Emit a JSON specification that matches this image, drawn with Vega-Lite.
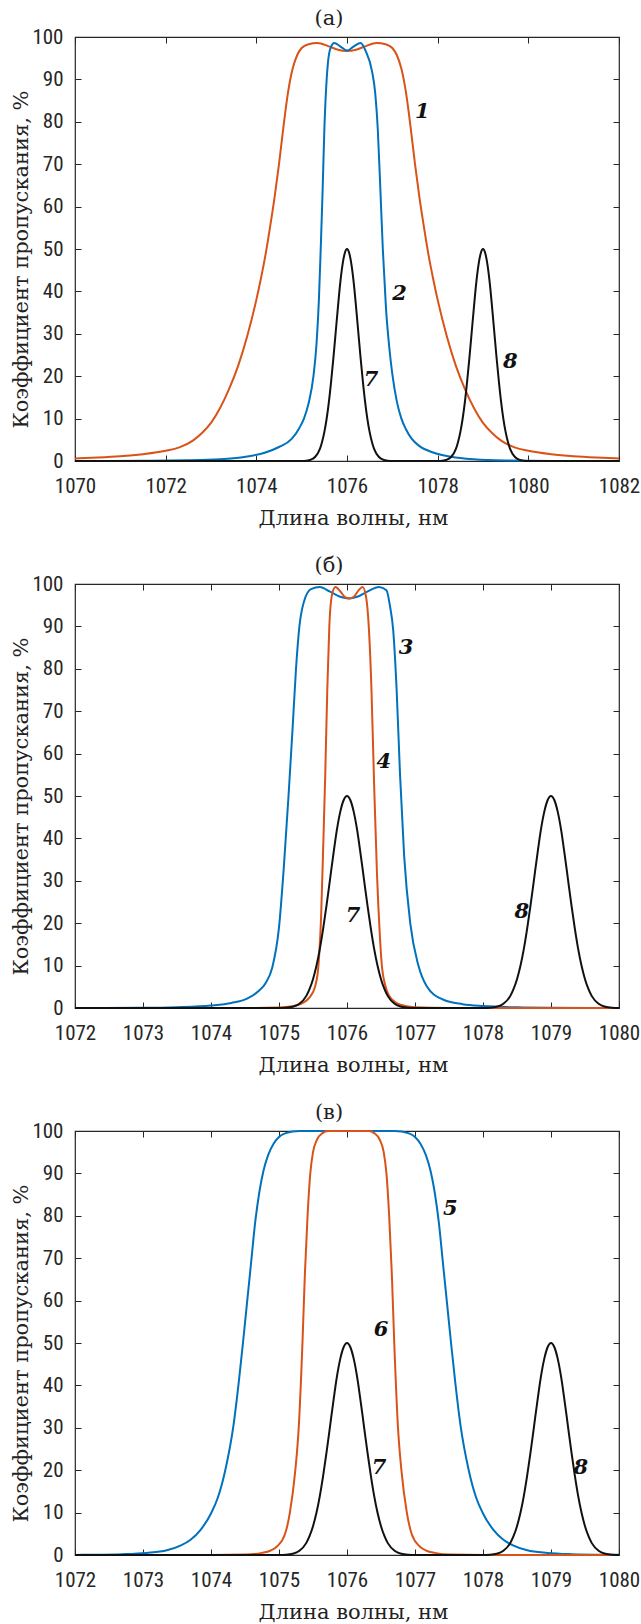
{
"$schema": "https://vega.github.io/schema/vega-lite/v6.json",
"padding": {"top": 7, "left": 10, "right": 0, "bottom": 0},
"spacing": 25,
"config": {
 "view": {"stroke": "#262626", "strokeWidth": 1.2},
 "axis": {"grid": false, "domain": false, "labelFlush": false, "labelOverlap": false, "tickColor": "#262626", "tickWidth": 1, "labelColor": "#262626", "labelFont": "'Liberation Sans Narrow', 'Roboto Condensed', 'DejaVu Sans Condensed', 'Liberation Sans'", "labelFontSize": 21, "titleFont": "DejaVu Serif", "titleFontSize": 21, "titleFontWeight": "normal", "titleColor": "#222222"},
 "title": {"font": "DejaVu Serif", "fontSize": 21, "fontWeight": "normal", "color": "#222222", "offset": -3},
 "line": {"interpolate": "monotone", "strokeWidth": 2},
 "text": {"font": "DejaVu Serif", "fontStyle": "italic", "fontWeight": "bold", "fontSize": 21, "color": "#111111"}
},
"datasets": {
 "a": [
  {"c":"1","x":1070,"y":0.6},{"c":"1","x":1070.5,"y":0.8},{"c":"1","x":1071,"y":1.1},{"c":"1","x":1071.5,"y":1.6},{"c":"1","x":1072,"y":2.4},{"c":"1","x":1072.3,"y":3.2},{"c":"1","x":1072.6,"y":4.8},{"c":"1","x":1072.8,"y":6.6},{"c":"1","x":1073.0,"y":9.0},{"c":"1","x":1073.2,"y":12.5},{"c":"1","x":1073.4,"y":17},{"c":"1","x":1073.6,"y":22.5},{"c":"1","x":1073.8,"y":29.5},{"c":"1","x":1074.0,"y":38},{"c":"1","x":1074.1,"y":43},{"c":"1","x":1074.2,"y":48.5},{"c":"1","x":1074.3,"y":55},{"c":"1","x":1074.4,"y":62},{"c":"1","x":1074.5,"y":70},{"c":"1","x":1074.6,"y":79},{"c":"1","x":1074.7,"y":87},{"c":"1","x":1074.8,"y":92.5},{"c":"1","x":1074.9,"y":95.7},{"c":"1","x":1075.0,"y":97.4},{"c":"1","x":1075.15,"y":98.3},{"c":"1","x":1075.35,"y":98.6},{"c":"1","x":1075.6,"y":97.8},{"c":"1","x":1075.8,"y":97.0},{"c":"1","x":1076.0,"y":96.7},{"c":"1","x":1076.2,"y":97.0},{"c":"1","x":1076.4,"y":97.8},{"c":"1","x":1076.65,"y":98.6},{"c":"1","x":1076.85,"y":98.3},{"c":"1","x":1077.0,"y":97.4},{"c":"1","x":1077.1,"y":95.7},{"c":"1","x":1077.2,"y":92.5},{"c":"1","x":1077.3,"y":87},{"c":"1","x":1077.4,"y":79},{"c":"1","x":1077.5,"y":70},{"c":"1","x":1077.6,"y":62},{"c":"1","x":1077.7,"y":55},{"c":"1","x":1077.8,"y":48.5},{"c":"1","x":1077.9,"y":43},{"c":"1","x":1078.0,"y":38},{"c":"1","x":1078.2,"y":29.5},{"c":"1","x":1078.4,"y":22.5},{"c":"1","x":1078.6,"y":17},{"c":"1","x":1078.8,"y":12.5},{"c":"1","x":1079.0,"y":9.0},{"c":"1","x":1079.2,"y":6.6},{"c":"1","x":1079.4,"y":4.8},{"c":"1","x":1079.7,"y":3.2},{"c":"1","x":1080,"y":2.4},{"c":"1","x":1080.5,"y":1.6},{"c":"1","x":1081,"y":1.1},{"c":"1","x":1081.5,"y":0.8},{"c":"1","x":1082,"y":0.6},
  {"c":"2","x":1070,"y":0},{"c":"2","x":1071.5,"y":0.05},{"c":"2","x":1072.5,"y":0.15},{"c":"2","x":1073.2,"y":0.4},{"c":"2","x":1073.7,"y":0.9},{"c":"2","x":1074.2,"y":2},{"c":"2","x":1074.5,"y":3.3},{"c":"2","x":1074.78,"y":5.2},{"c":"2","x":1074.95,"y":7.8},{"c":"2","x":1075.05,"y":10},{"c":"2","x":1075.15,"y":13.5},{"c":"2","x":1075.26,"y":20},{"c":"2","x":1075.33,"y":28},{"c":"2","x":1075.38,"y":38},{"c":"2","x":1075.42,"y":50},{"c":"2","x":1075.46,"y":63},{"c":"2","x":1075.5,"y":78},{"c":"2","x":1075.54,"y":88},{"c":"2","x":1075.58,"y":94},{"c":"2","x":1075.64,"y":97.5},{"c":"2","x":1075.72,"y":98.6},{"c":"2","x":1075.85,"y":97.8},{"c":"2","x":1076.0,"y":96.8},{"c":"2","x":1076.15,"y":97.8},{"c":"2","x":1076.3,"y":98.6},{"c":"2","x":1076.42,"y":96.5},{"c":"2","x":1076.55,"y":92},{"c":"2","x":1076.62,"y":87},{"c":"2","x":1076.68,"y":78},{"c":"2","x":1076.74,"y":63},{"c":"2","x":1076.79,"y":50},{"c":"2","x":1076.86,"y":36},{"c":"2","x":1076.94,"y":26},{"c":"2","x":1077.0,"y":20.5},{"c":"2","x":1077.1,"y":14},{"c":"2","x":1077.2,"y":10},{"c":"2","x":1077.3,"y":7.5},{"c":"2","x":1077.43,"y":5.2},{"c":"2","x":1077.6,"y":3.5},{"c":"2","x":1077.9,"y":2},{"c":"2","x":1078.3,"y":1},{"c":"2","x":1078.8,"y":0.4},{"c":"2","x":1079.5,"y":0.1},{"c":"2","x":1080.5,"y":0},{"c":"2","x":1082,"y":0},
  {"c":"7","x":1070,"y":0},{"c":"7","x":1075.0,"y":0.02},{"c":"7","x":1075.1,"y":0.08},{"c":"7","x":1075.2,"y":0.3},{"c":"7","x":1075.3,"y":1.0},{"c":"7","x":1075.4,"y":2.8},{"c":"7","x":1075.45,"y":4.5},{"c":"7","x":1075.5,"y":6.8},{"c":"7","x":1075.55,"y":9.9},{"c":"7","x":1075.6,"y":13.9},{"c":"7","x":1075.65,"y":18.8},{"c":"7","x":1075.7,"y":24.3},{"c":"7","x":1075.75,"y":30.3},{"c":"7","x":1075.8,"y":36.3},{"c":"7","x":1075.85,"y":41.9},{"c":"7","x":1075.9,"y":46.2},{"c":"7","x":1075.95,"y":49.0},{"c":"7","x":1076.0,"y":50},{"c":"7","x":1076.05,"y":49.0},{"c":"7","x":1076.1,"y":46.2},{"c":"7","x":1076.15,"y":41.9},{"c":"7","x":1076.2,"y":36.3},{"c":"7","x":1076.25,"y":30.3},{"c":"7","x":1076.3,"y":24.3},{"c":"7","x":1076.35,"y":18.8},{"c":"7","x":1076.4,"y":13.9},{"c":"7","x":1076.45,"y":9.9},{"c":"7","x":1076.5,"y":6.8},{"c":"7","x":1076.55,"y":4.5},{"c":"7","x":1076.6,"y":2.8},{"c":"7","x":1076.7,"y":1.0},{"c":"7","x":1076.8,"y":0.3},{"c":"7","x":1076.9,"y":0.08},{"c":"7","x":1077.0,"y":0.02},{"c":"7","x":1077.5,"y":0},
  {"c":"8","x":1077.5,"y":0},{"c":"8","x":1078.0,"y":0.02},{"c":"8","x":1078.1,"y":0.08},{"c":"8","x":1078.2,"y":0.3},{"c":"8","x":1078.3,"y":1.0},{"c":"8","x":1078.4,"y":2.8},{"c":"8","x":1078.45,"y":4.5},{"c":"8","x":1078.5,"y":6.8},{"c":"8","x":1078.55,"y":9.9},{"c":"8","x":1078.6,"y":13.9},{"c":"8","x":1078.65,"y":18.8},{"c":"8","x":1078.7,"y":24.3},{"c":"8","x":1078.75,"y":30.3},{"c":"8","x":1078.8,"y":36.3},{"c":"8","x":1078.85,"y":41.9},{"c":"8","x":1078.9,"y":46.2},{"c":"8","x":1078.95,"y":49.0},{"c":"8","x":1079.0,"y":50},{"c":"8","x":1079.05,"y":49.0},{"c":"8","x":1079.1,"y":46.2},{"c":"8","x":1079.15,"y":41.9},{"c":"8","x":1079.2,"y":36.3},{"c":"8","x":1079.25,"y":30.3},{"c":"8","x":1079.3,"y":24.3},{"c":"8","x":1079.35,"y":18.8},{"c":"8","x":1079.4,"y":13.9},{"c":"8","x":1079.45,"y":9.9},{"c":"8","x":1079.5,"y":6.8},{"c":"8","x":1079.55,"y":4.5},{"c":"8","x":1079.6,"y":2.8},{"c":"8","x":1079.7,"y":1.0},{"c":"8","x":1079.8,"y":0.3},{"c":"8","x":1079.9,"y":0.08},{"c":"8","x":1080.0,"y":0.02},{"c":"8","x":1080.5,"y":0},{"c":"8","x":1082,"y":0}
 ],
 "b": [
  {"c":"3","x":1072,"y":0},{"c":"3","x":1073,"y":0.05},{"c":"3","x":1073.5,"y":0.2},{"c":"3","x":1074.0,"y":0.6},{"c":"3","x":1074.3,"y":1.2},{"c":"3","x":1074.53,"y":2.2},{"c":"3","x":1074.7,"y":4},{"c":"3","x":1074.8,"y":5.8},{"c":"3","x":1074.9,"y":9.5},{"c":"3","x":1075.0,"y":19},{"c":"3","x":1075.07,"y":33},{"c":"3","x":1075.14,"y":50},{"c":"3","x":1075.2,"y":66},{"c":"3","x":1075.25,"y":80},{"c":"3","x":1075.3,"y":90},{"c":"3","x":1075.37,"y":96},{"c":"3","x":1075.47,"y":98.8},{"c":"3","x":1075.6,"y":99.3},{"c":"3","x":1075.75,"y":98.2},{"c":"3","x":1075.9,"y":97},{"c":"3","x":1076.03,"y":96.6},{"c":"3","x":1076.15,"y":97},{"c":"3","x":1076.3,"y":98.2},{"c":"3","x":1076.47,"y":99.3},{"c":"3","x":1076.58,"y":98.5},{"c":"3","x":1076.63,"y":95},{"c":"3","x":1076.68,"y":89},{"c":"3","x":1076.73,"y":75},{"c":"3","x":1076.78,"y":55},{"c":"3","x":1076.84,"y":36},{"c":"3","x":1076.93,"y":20},{"c":"3","x":1077.05,"y":10},{"c":"3","x":1077.17,"y":5.2},{"c":"3","x":1077.41,"y":2},{"c":"3","x":1077.7,"y":0.9},{"c":"3","x":1078.0,"y":0.45},{"c":"3","x":1078.5,"y":0.15},{"c":"3","x":1079,"y":0.05},{"c":"3","x":1080,"y":0},
  {"c":"4","x":1072,"y":0},{"c":"4","x":1074.5,"y":0},{"c":"4","x":1075.0,"y":0.1},{"c":"4","x":1075.2,"y":0.4},{"c":"4","x":1075.35,"y":1.2},{"c":"4","x":1075.45,"y":2.5},{"c":"4","x":1075.53,"y":5},{"c":"4","x":1075.58,"y":10},{"c":"4","x":1075.62,"y":22},{"c":"4","x":1075.65,"y":38},{"c":"4","x":1075.68,"y":55},{"c":"4","x":1075.71,"y":75},{"c":"4","x":1075.74,"y":90},{"c":"4","x":1075.78,"y":97.5},{"c":"4","x":1075.83,"y":99.3},{"c":"4","x":1075.9,"y":98.3},{"c":"4","x":1075.97,"y":96.9},{"c":"4","x":1076.03,"y":96.6},{"c":"4","x":1076.1,"y":97},{"c":"4","x":1076.17,"y":98.5},{"c":"4","x":1076.23,"y":99.3},{"c":"4","x":1076.28,"y":97},{"c":"4","x":1076.32,"y":90},{"c":"4","x":1076.36,"y":75},{"c":"4","x":1076.4,"y":52},{"c":"4","x":1076.44,"y":32},{"c":"4","x":1076.48,"y":18},{"c":"4","x":1076.51,"y":10.5},{"c":"4","x":1076.56,"y":5.5},{"c":"4","x":1076.66,"y":2},{"c":"4","x":1076.8,"y":0.7},{"c":"4","x":1077.0,"y":0.2},{"c":"4","x":1077.5,"y":0.02},{"c":"4","x":1080,"y":0},
  {"c":"7","x":1072,"y":0},{"c":"7","x":1075.0,"y":0.02},{"c":"7","x":1075.1,"y":0.08},{"c":"7","x":1075.2,"y":0.3},{"c":"7","x":1075.3,"y":1.0},{"c":"7","x":1075.4,"y":2.8},{"c":"7","x":1075.45,"y":4.5},{"c":"7","x":1075.5,"y":6.8},{"c":"7","x":1075.55,"y":9.9},{"c":"7","x":1075.6,"y":13.9},{"c":"7","x":1075.65,"y":18.8},{"c":"7","x":1075.7,"y":24.3},{"c":"7","x":1075.75,"y":30.3},{"c":"7","x":1075.8,"y":36.3},{"c":"7","x":1075.85,"y":41.9},{"c":"7","x":1075.9,"y":46.2},{"c":"7","x":1075.95,"y":49.0},{"c":"7","x":1076.0,"y":50},{"c":"7","x":1076.05,"y":49.0},{"c":"7","x":1076.1,"y":46.2},{"c":"7","x":1076.15,"y":41.9},{"c":"7","x":1076.2,"y":36.3},{"c":"7","x":1076.25,"y":30.3},{"c":"7","x":1076.3,"y":24.3},{"c":"7","x":1076.35,"y":18.8},{"c":"7","x":1076.4,"y":13.9},{"c":"7","x":1076.45,"y":9.9},{"c":"7","x":1076.5,"y":6.8},{"c":"7","x":1076.55,"y":4.5},{"c":"7","x":1076.6,"y":2.8},{"c":"7","x":1076.7,"y":1.0},{"c":"7","x":1076.8,"y":0.3},{"c":"7","x":1076.9,"y":0.08},{"c":"7","x":1077.0,"y":0.02},{"c":"7","x":1077.5,"y":0},
  {"c":"8","x":1077.5,"y":0},{"c":"8","x":1078.0,"y":0.02},{"c":"8","x":1078.1,"y":0.08},{"c":"8","x":1078.2,"y":0.3},{"c":"8","x":1078.3,"y":1.0},{"c":"8","x":1078.4,"y":2.8},{"c":"8","x":1078.45,"y":4.5},{"c":"8","x":1078.5,"y":6.8},{"c":"8","x":1078.55,"y":9.9},{"c":"8","x":1078.6,"y":13.9},{"c":"8","x":1078.65,"y":18.8},{"c":"8","x":1078.7,"y":24.3},{"c":"8","x":1078.75,"y":30.3},{"c":"8","x":1078.8,"y":36.3},{"c":"8","x":1078.85,"y":41.9},{"c":"8","x":1078.9,"y":46.2},{"c":"8","x":1078.95,"y":49.0},{"c":"8","x":1079.0,"y":50},{"c":"8","x":1079.05,"y":49.0},{"c":"8","x":1079.1,"y":46.2},{"c":"8","x":1079.15,"y":41.9},{"c":"8","x":1079.2,"y":36.3},{"c":"8","x":1079.25,"y":30.3},{"c":"8","x":1079.3,"y":24.3},{"c":"8","x":1079.35,"y":18.8},{"c":"8","x":1079.4,"y":13.9},{"c":"8","x":1079.45,"y":9.9},{"c":"8","x":1079.5,"y":6.8},{"c":"8","x":1079.55,"y":4.5},{"c":"8","x":1079.6,"y":2.8},{"c":"8","x":1079.7,"y":1.0},{"c":"8","x":1079.8,"y":0.3},{"c":"8","x":1079.9,"y":0.08},{"c":"8","x":1080.0,"y":0.02}
 ],
 "c": [
  {"c":"5","x":1072,"y":0.02},{"c":"5","x":1072.2,"y":0.05},{"c":"5","x":1072.7,"y":0.2},{"c":"5","x":1073.05,"y":0.5},{"c":"5","x":1073.35,"y":1.1},{"c":"5","x":1073.55,"y":2.2},{"c":"5","x":1073.7,"y":3.6},{"c":"5","x":1073.85,"y":6},{"c":"5","x":1074.0,"y":9.8},{"c":"5","x":1074.1,"y":13.5},{"c":"5","x":1074.21,"y":20},{"c":"5","x":1074.33,"y":30.5},{"c":"5","x":1074.41,"y":41},{"c":"5","x":1074.47,"y":50},{"c":"5","x":1074.53,"y":59.5},{"c":"5","x":1074.59,"y":69},{"c":"5","x":1074.65,"y":78.5},{"c":"5","x":1074.71,"y":85.5},{"c":"5","x":1074.77,"y":90.5},{"c":"5","x":1074.84,"y":94.3},{"c":"5","x":1074.92,"y":97},{"c":"5","x":1075.0,"y":98.6},{"c":"5","x":1075.1,"y":99.5},{"c":"5","x":1075.2,"y":99.9},{"c":"5","x":1075.3,"y":100},{"c":"5","x":1076.7,"y":100},{"c":"5","x":1076.8,"y":99.9},{"c":"5","x":1076.9,"y":99.5},{"c":"5","x":1077.0,"y":98.6},{"c":"5","x":1077.08,"y":97},{"c":"5","x":1077.16,"y":94.3},{"c":"5","x":1077.23,"y":90.5},{"c":"5","x":1077.29,"y":85.5},{"c":"5","x":1077.35,"y":78.5},{"c":"5","x":1077.41,"y":69},{"c":"5","x":1077.47,"y":59.5},{"c":"5","x":1077.53,"y":50},{"c":"5","x":1077.59,"y":41},{"c":"5","x":1077.67,"y":30.5},{"c":"5","x":1077.79,"y":20},{"c":"5","x":1077.9,"y":13.5},{"c":"5","x":1078.0,"y":9.8},{"c":"5","x":1078.15,"y":6},{"c":"5","x":1078.3,"y":3.6},{"c":"5","x":1078.45,"y":2.2},{"c":"5","x":1078.65,"y":1.1},{"c":"5","x":1078.95,"y":0.5},{"c":"5","x":1079.3,"y":0.2},{"c":"5","x":1079.8,"y":0.05},{"c":"5","x":1080,"y":0.03},
  {"c":"6","x":1072,"y":0},{"c":"6","x":1074.02,"y":0},{"c":"6","x":1074.52,"y":0.1},{"c":"6","x":1074.75,"y":0.5},{"c":"6","x":1074.87,"y":1},{"c":"6","x":1074.97,"y":2},{"c":"6","x":1075.09,"y":5},{"c":"6","x":1075.16,"y":10},{"c":"6","x":1075.24,"y":20},{"c":"6","x":1075.29,"y":30},{"c":"6","x":1075.345,"y":50},{"c":"6","x":1075.38,"y":66},{"c":"6","x":1075.42,"y":80},{"c":"6","x":1075.46,"y":90},{"c":"6","x":1075.5,"y":95},{"c":"6","x":1075.56,"y":98},{"c":"6","x":1075.64,"y":99.5},{"c":"6","x":1075.72,"y":100},{"c":"6","x":1076.32,"y":100},{"c":"6","x":1076.4,"y":99.5},{"c":"6","x":1076.48,"y":98},{"c":"6","x":1076.54,"y":95},{"c":"6","x":1076.58,"y":90},{"c":"6","x":1076.62,"y":80},{"c":"6","x":1076.66,"y":66},{"c":"6","x":1076.695,"y":50},{"c":"6","x":1076.75,"y":30},{"c":"6","x":1076.8,"y":20},{"c":"6","x":1076.88,"y":10},{"c":"6","x":1076.95,"y":5},{"c":"6","x":1077.07,"y":2},{"c":"6","x":1077.17,"y":1},{"c":"6","x":1077.29,"y":0.5},{"c":"6","x":1077.52,"y":0.1},{"c":"6","x":1078.02,"y":0},{"c":"6","x":1080,"y":0},
  {"c":"7","x":1072,"y":0},{"c":"7","x":1075.0,"y":0.02},{"c":"7","x":1075.1,"y":0.08},{"c":"7","x":1075.2,"y":0.3},{"c":"7","x":1075.3,"y":1.0},{"c":"7","x":1075.4,"y":2.8},{"c":"7","x":1075.45,"y":4.5},{"c":"7","x":1075.5,"y":6.8},{"c":"7","x":1075.55,"y":9.9},{"c":"7","x":1075.6,"y":13.9},{"c":"7","x":1075.65,"y":18.8},{"c":"7","x":1075.7,"y":24.3},{"c":"7","x":1075.75,"y":30.3},{"c":"7","x":1075.8,"y":36.3},{"c":"7","x":1075.85,"y":41.9},{"c":"7","x":1075.9,"y":46.2},{"c":"7","x":1075.95,"y":49.0},{"c":"7","x":1076.0,"y":50},{"c":"7","x":1076.05,"y":49.0},{"c":"7","x":1076.1,"y":46.2},{"c":"7","x":1076.15,"y":41.9},{"c":"7","x":1076.2,"y":36.3},{"c":"7","x":1076.25,"y":30.3},{"c":"7","x":1076.3,"y":24.3},{"c":"7","x":1076.35,"y":18.8},{"c":"7","x":1076.4,"y":13.9},{"c":"7","x":1076.45,"y":9.9},{"c":"7","x":1076.5,"y":6.8},{"c":"7","x":1076.55,"y":4.5},{"c":"7","x":1076.6,"y":2.8},{"c":"7","x":1076.7,"y":1.0},{"c":"7","x":1076.8,"y":0.3},{"c":"7","x":1076.9,"y":0.08},{"c":"7","x":1077.0,"y":0.02},{"c":"7","x":1077.5,"y":0},
  {"c":"8","x":1077.5,"y":0},{"c":"8","x":1078.0,"y":0.02},{"c":"8","x":1078.1,"y":0.08},{"c":"8","x":1078.2,"y":0.3},{"c":"8","x":1078.3,"y":1.0},{"c":"8","x":1078.4,"y":2.8},{"c":"8","x":1078.45,"y":4.5},{"c":"8","x":1078.5,"y":6.8},{"c":"8","x":1078.55,"y":9.9},{"c":"8","x":1078.6,"y":13.9},{"c":"8","x":1078.65,"y":18.8},{"c":"8","x":1078.7,"y":24.3},{"c":"8","x":1078.75,"y":30.3},{"c":"8","x":1078.8,"y":36.3},{"c":"8","x":1078.85,"y":41.9},{"c":"8","x":1078.9,"y":46.2},{"c":"8","x":1078.95,"y":49.0},{"c":"8","x":1079.0,"y":50},{"c":"8","x":1079.05,"y":49.0},{"c":"8","x":1079.1,"y":46.2},{"c":"8","x":1079.15,"y":41.9},{"c":"8","x":1079.2,"y":36.3},{"c":"8","x":1079.25,"y":30.3},{"c":"8","x":1079.3,"y":24.3},{"c":"8","x":1079.35,"y":18.8},{"c":"8","x":1079.4,"y":13.9},{"c":"8","x":1079.45,"y":9.9},{"c":"8","x":1079.5,"y":6.8},{"c":"8","x":1079.55,"y":4.5},{"c":"8","x":1079.6,"y":2.8},{"c":"8","x":1079.7,"y":1.0},{"c":"8","x":1079.8,"y":0.3},{"c":"8","x":1079.9,"y":0.08},{"c":"8","x":1080.0,"y":0.02}
 ],
 "la": [{"t":"1","x":1077.66,"y":82.4},{"t":"2","x":1077.16,"y":39.4},{"t":"7","x":1076.53,"y":19.1},{"t":"8","x":1079.6,"y":23.4}],
 "lb": [{"t":"3","x":1076.87,"y":85},{"t":"4","x":1076.54,"y":58},{"t":"7","x":1076.09,"y":21.8},{"t":"8","x":1078.57,"y":22.6}],
 "lc": [{"t":"5","x":1077.52,"y":81.7},{"t":"6","x":1076.5,"y":53},{"t":"7","x":1076.47,"y":20.5},{"t":"8","x":1079.44,"y":20.5}]
},
"vconcat": [
 {
  "title": {"text": "(а)", "dx": -18},
  "width": 544, "height": 424,
  "layer": [
   {"data": {"name": "a"}, "mark": "line",
    "encoding": {
     "x": {"field": "x", "type": "quantitative", "scale": {"domain": [1070, 1082], "nice": false, "zero": false}, "axis": {"orient": "bottom", "values": [1070,1072,1074,1076,1078,1080,1082], "format": "d", "ticks": false, "labelPadding": 14, "title": "Длина волны, нм", "titlePadding": 11, "titleX": 278}},
     "y": {"field": "y", "type": "quantitative", "scale": {"domain": [0, 100], "nice": false}, "axis": {"orient": "left", "values": [0,10,20,30,40,50,60,70,80,90,100], "ticks": false, "labelPadding": 12, "title": "Коэффициент пропускания, %", "titlePadding": 0, "titleY": 222}},
     "color": {"field": "c", "type": "nominal", "scale": {"domain": ["1","2","3","4","5","6","7","8"], "range": ["#D95319","#0072BD","#0072BD","#D95319","#0072BD","#D95319","#111111","#111111"]}, "legend": null}
    }},
   {"data": {"name": "la"}, "mark": "text",
    "encoding": {"x": {"field": "x", "type": "quantitative", "axis": null}, "y": {"field": "y", "type": "quantitative", "axis": null}, "text": {"field": "t"}}},
   {"data": {"name": "a"}, "mark": {"type": "line", "strokeOpacity": 0},
    "encoding": {"x": {"field": "x", "type": "quantitative", "axis": {"orient": "bottom", "values": [1070,1072,1074,1076,1078,1080,1082], "labels": false, "title": null, "tickSize": -6}},
                 "y": {"field": "y", "type": "quantitative", "axis": {"orient": "left", "values": [0,10,20,30,40,50,60,70,80,90,100], "labels": false, "title": null, "tickSize": -6}}}},
   {"data": {"name": "a"}, "mark": {"type": "line", "strokeOpacity": 0},
    "encoding": {"x": {"field": "x", "type": "quantitative", "axis": {"orient": "top", "values": [1070,1072,1074,1076,1078,1080,1082], "labels": false, "title": null, "tickSize": -6}},
                 "y": {"field": "y", "type": "quantitative", "axis": {"orient": "right", "values": [0,10,20,30,40,50,60,70,80,90,100], "labels": false, "title": null, "tickSize": -6}}}}
  ],
  "resolve": {"axis": {"x": "independent", "y": "independent"}}
 },
 {
  "title": {"text": "(б)", "dx": -18},
  "width": 544, "height": 424,
  "layer": [
   {"data": {"name": "b"}, "mark": "line",
    "encoding": {
     "x": {"field": "x", "type": "quantitative", "scale": {"domain": [1072, 1080], "nice": false, "zero": false}, "axis": {"orient": "bottom", "values": [1072,1073,1074,1075,1076,1077,1078,1079,1080], "format": "d", "ticks": false, "labelPadding": 14, "title": "Длина волны, нм", "titlePadding": 11, "titleX": 278}},
     "y": {"field": "y", "type": "quantitative", "scale": {"domain": [0, 100], "nice": false}, "axis": {"orient": "left", "values": [0,10,20,30,40,50,60,70,80,90,100], "ticks": false, "labelPadding": 12, "title": "Коэффициент пропускания, %", "titlePadding": 0, "titleY": 222}},
     "color": {"field": "c", "type": "nominal", "scale": {"domain": ["1","2","3","4","5","6","7","8"], "range": ["#D95319","#0072BD","#0072BD","#D95319","#0072BD","#D95319","#111111","#111111"]}, "legend": null}
    }},
   {"data": {"name": "lb"}, "mark": "text",
    "encoding": {"x": {"field": "x", "type": "quantitative", "axis": null}, "y": {"field": "y", "type": "quantitative", "axis": null}, "text": {"field": "t"}}},
   {"data": {"name": "b"}, "mark": {"type": "line", "strokeOpacity": 0},
    "encoding": {"x": {"field": "x", "type": "quantitative", "axis": {"orient": "bottom", "values": [1072,1073,1074,1075,1076,1077,1078,1079,1080], "labels": false, "title": null, "tickSize": -6}},
                 "y": {"field": "y", "type": "quantitative", "axis": {"orient": "left", "values": [0,10,20,30,40,50,60,70,80,90,100], "labels": false, "title": null, "tickSize": -6}}}},
   {"data": {"name": "b"}, "mark": {"type": "line", "strokeOpacity": 0},
    "encoding": {"x": {"field": "x", "type": "quantitative", "axis": {"orient": "top", "values": [1072,1073,1074,1075,1076,1077,1078,1079,1080], "labels": false, "title": null, "tickSize": -6}},
                 "y": {"field": "y", "type": "quantitative", "axis": {"orient": "right", "values": [0,10,20,30,40,50,60,70,80,90,100], "labels": false, "title": null, "tickSize": -6}}}}
  ],
  "resolve": {"axis": {"x": "independent", "y": "independent"}}
 },
 {
  "title": {"text": "(в)", "dx": -18},
  "width": 544, "height": 424,
  "layer": [
   {"data": {"name": "c"}, "mark": "line",
    "encoding": {
     "x": {"field": "x", "type": "quantitative", "scale": {"domain": [1072, 1080], "nice": false, "zero": false}, "axis": {"orient": "bottom", "values": [1072,1073,1074,1075,1076,1077,1078,1079,1080], "format": "d", "ticks": false, "labelPadding": 14, "title": "Длина волны, нм", "titlePadding": 11, "titleX": 278}},
     "y": {"field": "y", "type": "quantitative", "scale": {"domain": [0, 100], "nice": false}, "axis": {"orient": "left", "values": [0,10,20,30,40,50,60,70,80,90,100], "ticks": false, "labelPadding": 12, "title": "Коэффициент пропускания, %", "titlePadding": 0, "titleY": 222}},
     "color": {"field": "c", "type": "nominal", "scale": {"domain": ["1","2","3","4","5","6","7","8"], "range": ["#D95319","#0072BD","#0072BD","#D95319","#0072BD","#D95319","#111111","#111111"]}, "legend": null}
    }},
   {"data": {"name": "lc"}, "mark": "text",
    "encoding": {"x": {"field": "x", "type": "quantitative", "axis": null}, "y": {"field": "y", "type": "quantitative", "axis": null}, "text": {"field": "t"}}},
   {"data": {"name": "c"}, "mark": {"type": "line", "strokeOpacity": 0},
    "encoding": {"x": {"field": "x", "type": "quantitative", "axis": {"orient": "bottom", "values": [1072,1073,1074,1075,1076,1077,1078,1079,1080], "labels": false, "title": null, "tickSize": -6}},
                 "y": {"field": "y", "type": "quantitative", "axis": {"orient": "left", "values": [0,10,20,30,40,50,60,70,80,90,100], "labels": false, "title": null, "tickSize": -6}}}},
   {"data": {"name": "c"}, "mark": {"type": "line", "strokeOpacity": 0},
    "encoding": {"x": {"field": "x", "type": "quantitative", "axis": {"orient": "top", "values": [1072,1073,1074,1075,1076,1077,1078,1079,1080], "labels": false, "title": null, "tickSize": -6}},
                 "y": {"field": "y", "type": "quantitative", "axis": {"orient": "right", "values": [0,10,20,30,40,50,60,70,80,90,100], "labels": false, "title": null, "tickSize": -6}}}}
  ],
  "resolve": {"axis": {"x": "independent", "y": "independent"}}
 }
]
}
